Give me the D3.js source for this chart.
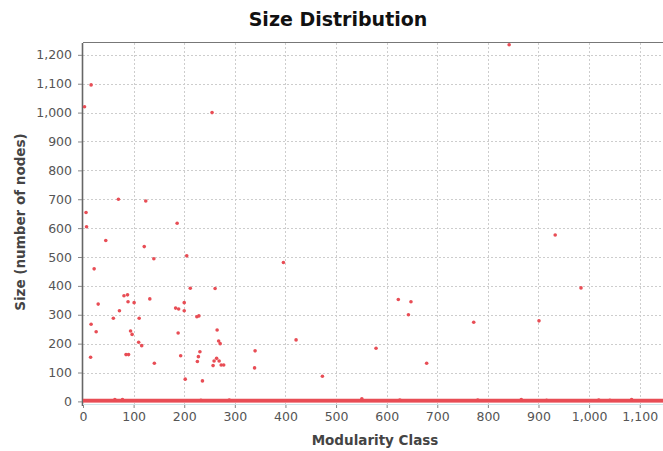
<!DOCTYPE html>
<html>
<head>
<meta charset="utf-8">
<script src="https://cdn.jsdelivr.net/npm/d3@7"></script>
<style>
  body { margin: 0; background: #fff; }
  svg { display: block; font-family: "DejaVu Sans", Verdana, sans-serif; }
</style>
</head>
<body>
<div id="chart"></div>
<script>
'use strict';

/*
    SIZE DISTRIBUTION scatter
*/

// modularity class id and size (number of nodes) of the larger classes
const classIds = [3, 16, 255, 842, 6, 7, 70, 124, 186, 45, 121, 140, 205, 22, 212, 261,
    30, 72, 60, 81, 88, 89, 101, 132, 111, 16, 26, 94, 97, 110, 116, 15, 85, 90, 141,
    183, 189, 200, 200, 188, 193, 202, 225, 229, 265, 268, 271, 231, 228, 226, 236,
    264, 259, 257, 269, 273, 278, 340, 339, 396, 421,
    933, 984, 623, 648, 643, 772, 901, 579, 679, 473]
const classSizes = [1020, 1096, 1000, 1235, 654, 605, 700, 694, 617, 557, 536, 494, 504, 459, 392, 391,
    337, 314, 288, 366, 369, 345, 342, 355, 288, 267, 241, 244, 232, 205, 193, 153, 162, 162, 132,
    323, 320, 342, 314, 237, 158, 77, 293, 296, 247, 209, 200, 172, 155, 138, 71,
    149, 140, 124, 140, 126, 126, 175, 116, 481, 213,
    576, 393, 353, 345, 300, 274, 279, 184, 132, 87]

// a few small classes sitting just above the floor
const smallIds = [63, 78, 233, 289, 551, 626, 780, 866, 916, 1019, 1041, 1084]
const smallSizes = [6, 6, 4, 5, 9, 5, 5, 6, 4, 5, 4, 6]

// the remaining classes all hold 1-4 nodes and pile up into a band
const tinyRange = [0, 1146]
const tinySizes = [1, 4]

const xTicks = [0, 100, 200, 300, 400, 500, 600, 700, 800, 900, 1000, 1100]
const yTicks = [0, 100, 200, 300, 400, 500, 600, 700, 800, 900, 1000, 1100, 1200]

const drawChart = () => {
    var width = 663,
        height = 451;
    const margin = ({ top: 43, right: 0, bottom: 47, left: 83 })
    const red = "#e84d55"

    var svg = d3.select("#chart").append("svg")
        .attr("width", width)
        .attr("height", height);

    var x = d3.scaleLinear()
        .domain([0, 1146])
        .range([margin.left, width - margin.right]);
    var y = d3.scaleLinear()
        .domain([-9, 1241])
        .range([height - margin.bottom, margin.top]);

    // title
    svg.append("text")
        .attr("x", 338)
        .attr("y", 26)
        .attr("text-anchor", "middle")
        .attr("font-size", "19px")
        .attr("font-weight", "bold")
        .attr("fill", "#111")
        .text("Size Distribution");

    // grid
    var grid = svg.append("g")
        .attr("stroke", "#cdcdcd")
        .attr("stroke-width", 1)
        .attr("stroke-dasharray", "2,2");
    grid.selectAll(".gx")
        .data(xTicks.filter(d => d > 0))
        .enter().append("line")
        .attr("x1", d => Math.round(x(d)) + 0.5)
        .attr("x2", d => Math.round(x(d)) + 0.5)
        .attr("y1", margin.top)
        .attr("y2", height - margin.bottom);
    grid.selectAll(".gy")
        .data(yTicks.filter(d => d > 0))
        .enter().append("line")
        .attr("y1", d => Math.round(y(d)) + 0.5)
        .attr("y2", d => Math.round(y(d)) + 0.5)
        .attr("x1", margin.left)
        .attr("x2", width - margin.right);

    // plot frame (top and left)
    svg.append("line")
        .attr("x1", margin.left).attr("x2", width)
        .attr("y1", margin.top - 0.5).attr("y2", margin.top - 0.5)
        .attr("stroke", "#777").attr("stroke-width", 1.2);
    svg.append("line")
        .attr("x1", margin.left - 0.5).attr("x2", margin.left - 0.5)
        .attr("y1", margin.top).attr("y2", height - margin.bottom + 2)
        .attr("stroke", "#666").attr("stroke-width", 1.6);
    // faint floor line
    svg.append("line")
        .attr("x1", margin.left).attr("x2", width)
        .attr("y1", height - margin.bottom + 0.5).attr("y2", height - margin.bottom + 0.5)
        .attr("stroke", "#cfe6ea").attr("stroke-width", 1);

    // axes
    var xAxis = svg.append("g")
        .attr("transform", `translate(0,${height - margin.bottom + 1})`)
        .call(d3.axisBottom(x).tickValues(xTicks).tickSize(3).tickPadding(4).tickFormat(d3.format(",")));
    var yAxis = svg.append("g")
        .attr("transform", `translate(${margin.left - 1},0)`)
        .call(d3.axisLeft(y).tickValues(yTicks).tickSize(4).tickPadding(6).tickFormat(d3.format(",")));
    [xAxis, yAxis].forEach(a => {
        a.select(".domain").remove();
        a.selectAll(".tick line").attr("stroke", "#888");
        a.selectAll(".tick text")
            .attr("fill", "#555")
            .attr("font-size", "12.5px")
            .attr("font-family", "DejaVu Sans, sans-serif");
    })

    // axis titles
    svg.append("text")
        .attr("x", 375)
        .attr("y", 445)
        .attr("text-anchor", "middle")
        .attr("font-size", "13.5px")
        .attr("font-weight", "bold")
        .attr("fill", "#444")
        .text("Modularity Class");
    svg.append("text")
        .attr("transform", "translate(25,222) rotate(-90)")
        .attr("text-anchor", "middle")
        .attr("font-size", "13.5px")
        .attr("font-weight", "bold")
        .attr("fill", "#444")
        .text("Size (number of nodes)");

    // band of tiny classes
    svg.append("rect")
        .attr("x", x(tinyRange[0]))
        .attr("width", x(tinyRange[1]) - x(tinyRange[0]))
        .attr("y", y(tinySizes[1]) - 1.5)
        .attr("height", y(tinySizes[0]) - y(tinySizes[1]) + 3)
        .attr("fill", red);

    // points
    var pts = classIds.map((d, i) => ({ id: d, size: classSizes[i] }))
        .concat(smallIds.map((d, i) => ({ id: d, size: smallSizes[i] })));
    svg.append("g")
        .selectAll("circle")
        .data(pts)
        .enter().append("circle")
        .attr("cx", d => x(d.id))
        .attr("cy", d => y(d.size))
        .attr("r", 1.8)
        .attr("fill", red);
}

drawChart()
</script>
</body>
</html>
